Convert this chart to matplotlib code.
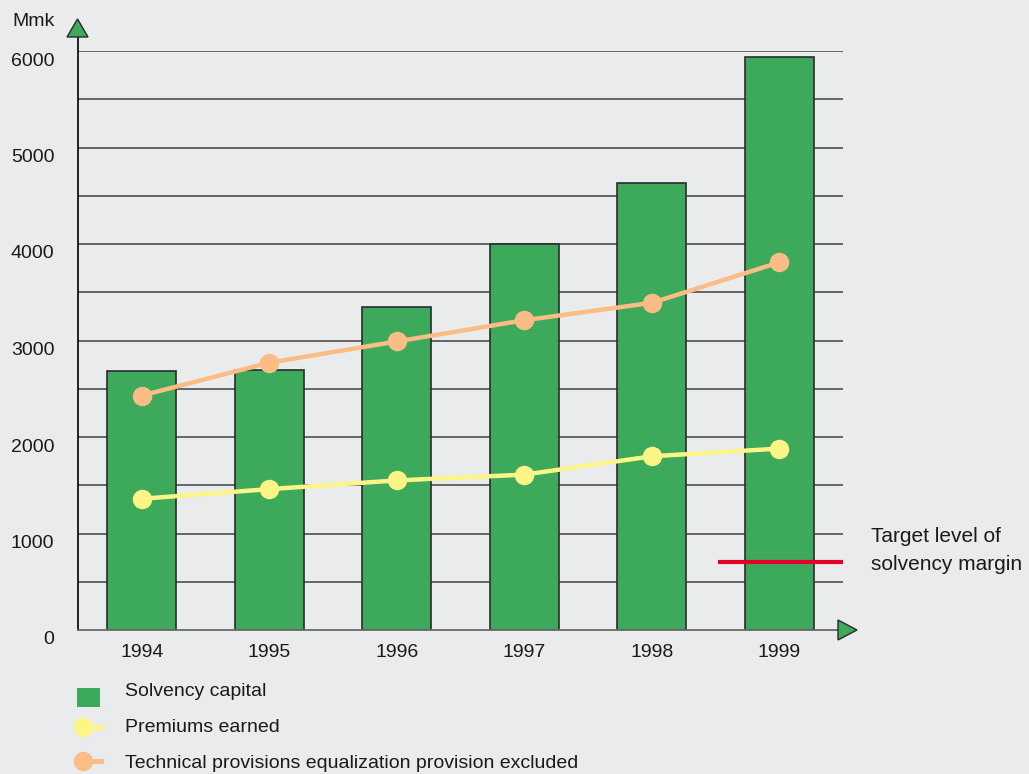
import matplotlib
matplotlib.use("Agg")
import matplotlib.pyplot as plt
from matplotlib.patches import Polygon, Rectangle
from matplotlib.lines import Line2D
from matplotlib.transforms import ScaledTranslation

# Data (Mmk)
years = ["1994", "1995", "1996", "1997", "1998", "1999"]
solvency_capital = [2680, 2690, 3350, 4000, 4630, 5940]
premiums_earned = [1360, 1460, 1550, 1610, 1800, 1880]
technical_provisions = [2430, 2770, 2990, 3210, 3390, 3810]
target_level = 700
y_ticks = [0, 1000, 2000, 3000, 4000, 5000, 6000]

BG = "#EAEBED"
GREEN = "#3DA95B"
YELLOW = "#FDF586"
ORANGE = "#FBBD85"
RED = "#E2002A"
TEXT = "#1A1A1A"

plt.rcParams["font.family"] = ["Liberation Sans", "DejaVu Sans"]

W, H = 1029, 774
fig = plt.figure(figsize=(W / 100, H / 100), dpi=100, facecolor=BG)
ax = fig.add_axes([78 / W, 1 - 630 / H, (843 - 78) / W, (630 - 51) / H])
ax.set_facecolor(BG)

x = list(range(len(years)))
ax.set_xlim(-0.5, len(years) - 0.5)
ax.set_ylim(0, 6000)

# horizontal grid every 500
for v in range(500, 6001, 500):
    ax.axhline(v, color="#5a5a5a", lw=1.3, zorder=1)

ax.bar(x, solvency_capital, width=0.545, color=GREEN, edgecolor="#2b2b2b",
       linewidth=1.2, zorder=2)

ax.plot(x, technical_provisions, color=ORANGE, lw=3.2, marker="o",
        markersize=13, zorder=4, solid_capstyle="round")
ax.plot(x, premiums_earned, color=YELLOW, lw=3.2, marker="o",
        markersize=13, zorder=4, solid_capstyle="round")

# target level of solvency margin
ax.plot([4.516, 5.5], [target_level, target_level], color=RED, lw=3.0,
        zorder=5, solid_capstyle="butt", clip_on=False)

for s in ["top", "right"]:
    ax.spines[s].set_visible(False)
ax.spines["left"].set_color("black")
ax.spines["left"].set_linewidth(1.2)
ax.spines["left"].set_bounds(0, 6150)
ax.spines["bottom"].set_color("#6a6a6a")
ax.spines["bottom"].set_linewidth(1.3)

ax.set_xticks(x)
ax.set_xticklabels(years)
ax.set_yticks(y_ticks)
ax.set_yticklabels([str(v) for v in y_ticks])
ax.tick_params(axis="both", length=0, labelsize=14, labelcolor=TEXT)
ax.tick_params(axis="x", pad=10)
ax.tick_params(axis="y", pad=17)
off = ScaledTranslation(0, -8 / 100, fig.dpi_scale_trans)
for lab in ax.get_yticklabels():
    lab.set_transform(lab.get_transform() + off)

# axis arrowheads (figure pixel coordinates)
def px(xp, yp):
    return (xp / W, 1 - yp / H)

up = Polygon([px(67, 37), px(88, 37), px(77.5, 19)], closed=True,
             transform=fig.transFigure, facecolor=GREEN, edgecolor="#2b2b2b",
             lw=1.0, zorder=6)
right = Polygon([px(838, 620), px(838, 640), px(857, 630)], closed=True,
                transform=fig.transFigure, facecolor=GREEN, edgecolor="#2b2b2b",
                lw=1.0, zorder=6)
fig.patches.extend([up, right])

fig.text(*px(12, 22), "Mmk", fontsize=14, color=TEXT, va="center", ha="left")

fig.text(*px(871, 537), "Target level of", fontsize=15, color=TEXT,
         va="center", ha="left")
fig.text(*px(871, 564), "solvency margin", fontsize=15, color=TEXT,
         va="center", ha="left")

# legend
fig.patches.append(Rectangle(px(77, 707), 23 / W, 19 / H,
                             transform=fig.transFigure, facecolor=GREEN,
                             edgecolor="none"))
for yc, col in [(727, YELLOW), (761, ORANGE)]:
    fig.lines.append(Line2D([px(83, yc)[0], px(101, yc)[0]],
                            [px(83, yc)[1]] * 2, transform=fig.transFigure,
                            color=col, lw=3.5))
    fig.lines.append(Line2D([px(83, yc)[0]], [px(83, yc)[1]],
                            transform=fig.transFigure, marker="o",
                            markersize=13, color=col, lw=0))

legend_labels = ["Solvency capital", "Premiums earned",
                 "Technical provisions equalization provision excluded"]
for yc, t in zip([692, 728, 763], legend_labels):
    fig.text(*px(125, yc), t, fontsize=14, color=TEXT, va="center", ha="left")

fig.savefig("out.png", dpi=100, facecolor=BG)
